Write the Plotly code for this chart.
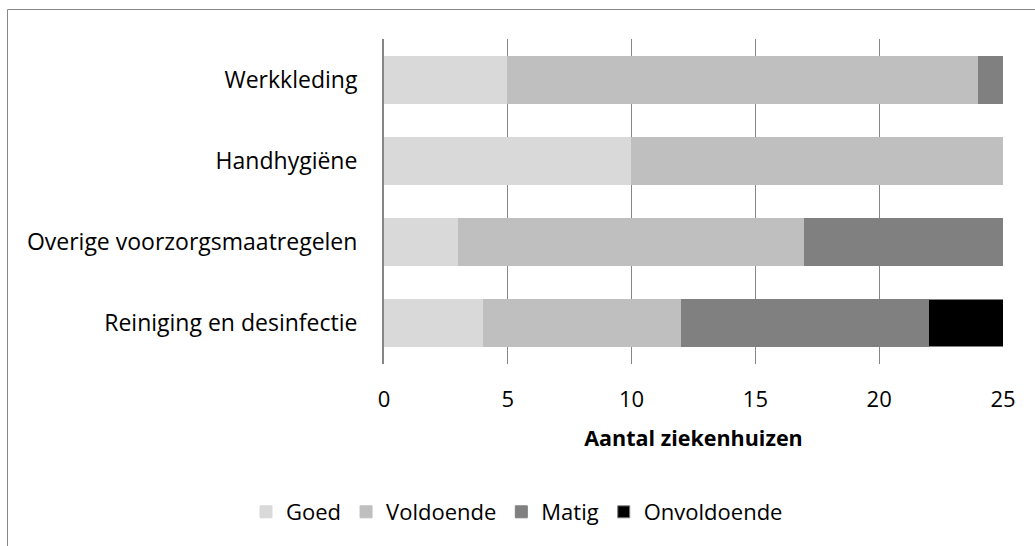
import plotly.graph_objects as go

categories = ["Reiniging en desinfectie", "Overige voorzorgsmaatregelen", "Handhygiëne", "Werkkleding"]
goed = [4, 3, 10, 5]
voldoende = [8, 14, 15, 19]
matig = [10, 8, 0, 1]
onvoldoende = [3, 0, 0, 0]
series = [("Goed", goed, "#d9d9d9"), ("Voldoende", voldoende, "#bfbfbf"),
          ("Matig", matig, "#808080"), ("Onvoldoende", onvoldoende, "#000000")]

FONT = "Open Sans"
fig = go.Figure()
for name, vals, col in series:
    fig.add_trace(go.Bar(
        y=categories, x=vals, name=name, orientation="h",
        marker=dict(color=col, line=dict(color="#7f7f7f" if name == "Onvoldoende" else col, width=1)),
        width=0.58,
    ))

W, H = 1035, 546
L, R, T, B = 384, 32, 39, 182
pw, ph = W - L - R, H - T - B

def px_x(p):
    return (p - L) / pw

def px_y(p):
    return (H - B - p) / ph

fig.update_layout(
    width=W, height=H, barmode="stack",
    margin=dict(l=L, r=R, t=T, b=B, autoexpand=False),
    plot_bgcolor="white", paper_bgcolor="white",
    font=dict(family=FONT, size=22, color="#000000"),
    xaxis=dict(range=[0, 25], dtick=5, showgrid=True, gridcolor="#868686", gridwidth=1,
               zeroline=False, showline=False, ticks="", tickfont=dict(size=22),
               ticklabelstandoff=20,
               title=dict(text="<b>Aantal ziekenhuizen</b>", font=dict(size=21.5), standoff=18)),
    yaxis=dict(showline=True, linecolor="#868686", linewidth=2, ticks="", showgrid=False,
               tickfont=dict(size=23), ticklabelstandoff=20),
    legend=dict(orientation="h", x=px_x(517), xanchor="center", y=px_y(512), yanchor="middle",
                font=dict(size=22), traceorder="normal", itemwidth=30),
    shapes=[dict(type="rect", xref="paper", yref="paper",
                 x0=px_x(7.5), x1=px_x(1100), y0=px_y(600), y1=px_y(9.5),
                 line=dict(color="#868686", width=1), fillcolor="rgba(0,0,0,0)", layer="below")],
)
fig.write_html("out.html", config={"displayModeBar": False},
               post_script="document.body.style.margin='0';")
